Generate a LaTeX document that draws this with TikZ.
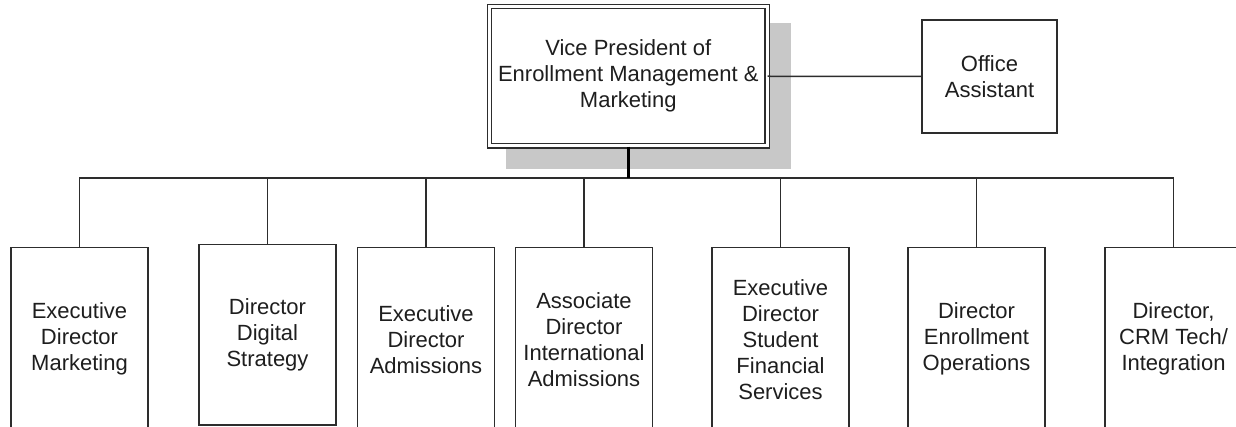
\documentclass[tikz,border=0pt]{standalone}
\usepackage{fontspec}
\setmainfont{Liberation Sans}
\usetikzlibrary{backgrounds}
\definecolor{linec}{RGB}{45,45,45}
\definecolor{shadowc}{RGB}{200,200,200}
\definecolor{textc}{RGB}{30,30,30}
\tikzset{
  lbl/.style={font=\fontsize{22}{26}\selectfont, align=center, text=textc},
  boxl/.style={lbl, draw=linec, line width=1.5pt, fill=white, minimum width=137pt, inner sep=0pt},
  conn/.style={draw=linec, line width=1.5pt},
  mainconn/.style={draw=black, line width=2.6pt},
}
\begin{document}
\begin{tikzpicture}[x=1pt,y=-1pt]
\useasboundingbox (0,0) rectangle (1236,427);
\clip (0,0) rectangle (1236,427);
% top box
\node[lbl, draw=linec, line width=1.4pt, double=white, double distance=3pt, fill=white,
      minimum width=277.5pt, minimum height=139.5pt, inner sep=0pt] (vp) at (628.25,76.25)
  {Vice President of\\Enrollment Management \&\\Marketing};
\begin{scope}[on background layer]
  \fill[white] (0,0) rectangle (1236,427);
  \fill[shadowc] ([shift={(17,17)}]vp.north west) rectangle ([shift={(23,22)}]vp.south east);
\end{scope}
% office assistant
\node[boxl, minimum width=135pt, minimum height=113pt] (oa) at (989.5,76.5) {Office\\Assistant};
% bottom boxes
\node[boxl, anchor=north, minimum height=183pt] (b1) at (79.5,247) {Executive\\Director\\Marketing};
\node[boxl, anchor=north, minimum height=180pt] (b2) at (267.5,244) {Director\\Digital\\Strategy};
\node[boxl, anchor=north, minimum height=183pt] (b3) at (426,247) {Executive\\Director\\Admissions};
\node[boxl, anchor=north, minimum height=183pt] (b4) at (584,247) {Associate\\Director\\International\\Admissions};
\node[boxl, anchor=north, minimum height=183pt] (b5) at (780.5,247) {Executive\\Director\\Student\\Financial\\Services};
\node[boxl, anchor=north, minimum height=183pt] (b6) at (976.5,247) {Director\\Enrollment\\Operations};
\node[boxl, anchor=north, minimum height=183pt] (b7) at (1173.5,247) {Director,\\CRM Tech/\\Integration};
% connectors
\coordinate (bus) at (629,178);
\draw[conn] (vp.east) -- (oa.west);
\draw[conn] (b1.north) -- (b1.north |- bus) -- (b7.north |- bus) -- (b7.north);
\foreach \b in {b2,b3,b4,b5,b6}{
  \draw[conn] (\b.north) -- (\b.north |- bus);
}
\draw[mainconn] (vp.south) -- (vp.south |- bus);
\end{tikzpicture}
\end{document}
